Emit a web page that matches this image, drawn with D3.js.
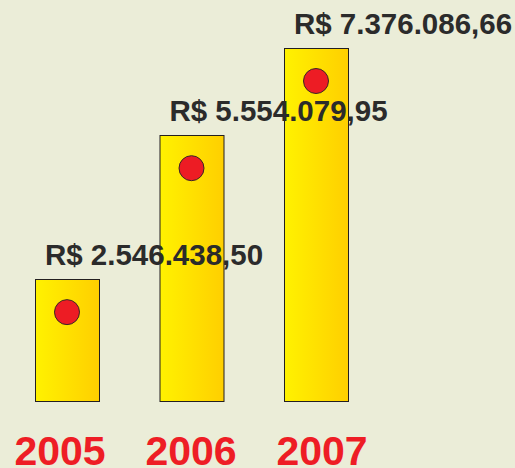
<!DOCTYPE html>
<html>
<head>
<meta charset="utf-8">
<script src="https://cdn.jsdelivr.net/npm/d3@7"></script>
<style>
  body { margin: 0; background: #ebedd8; }
  svg { display: block; }
</style>
</head>
<body>
<div id="chart"></div>
<script>
var years = ['2005', '2006', '2007'];
var values = [2546438.50, 5554079.95, 7376086.66];
var valueLabels = ['R$ 2.546.438,50', 'R$ 5.554.079,95', 'R$ 7.376.086,66'];

var width = 515, height = 468;

var svg = d3.select("#chart")
    .append("svg")
    .attr("width", width)
    .attr("height", height);

svg.append("rect")
    .attr("width", width)
    .attr("height", height)
    .attr("fill", "#ebedd8");

var defs = svg.append("defs");
var grad = defs.append("linearGradient")
    .attr("id", "barGrad")
    .attr("x1", "0%").attr("x2", "100%")
    .attr("y1", "0%").attr("y2", "0%");
grad.append("stop").attr("offset", "0%").attr("stop-color", "#fff200");
grad.append("stop").attr("offset", "100%").attr("stop-color", "#ffcf00");

var x = d3.scaleBand()
    .domain(years)
    .range([35, 348])
    .paddingInner(0.486)
    .paddingOuter(0);

// year labels sit a bit wider apart than the bars
var xLabel = d3.scalePoint()
    .domain(years)
    .range([60, 322]);

var y = d3.scaleLinear()
    .domain([0, d3.max(values)])
    .range([401, 48]);

svg.selectAll(".bar")
    .data(years)
    .enter()
    .append("rect")
    .attr("class", "bar")
    .attr("x", function(d) { return x(d) + 0.5; })
    .attr("y", function(d, i) { return Math.round(y(values[i])) + 0.5; })
    .attr("width", x.bandwidth())
    .attr("height", function(d, i) { return Math.round(y(0) - y(values[i])); })
    .attr("fill", "url(#barGrad)")
    .attr("stroke", "#231f20")
    .attr("stroke-width", 1);

svg.selectAll(".dot")
    .data(years)
    .enter()
    .append("circle")
    .attr("class", "dot")
    .attr("cx", function(d) { return x(d) + x.bandwidth() / 2; })
    .attr("cy", function(d, i) { return y(values[i]) + 33; })
    .attr("r", 12.5)
    .attr("fill", "#ed1c24")
    .attr("stroke", "#3b2626")
    .attr("stroke-width", 1);

svg.selectAll(".value-label")
    .data(years)
    .enter()
    .append("text")
    .attr("class", "value-label")
    .attr("x", function(d) { return x(d) + x.bandwidth() / 2 + 87; })
    .attr("y", function(d, i) { return y(values[i]) - 14; })
    .attr("text-anchor", "middle")
    .attr("font-family", "Liberation Sans, Arial, sans-serif")
    .attr("font-weight", "bold")
    .attr("font-size", "29.5px")
    .attr("fill", "#2b2b2b")
    .text(function(d, i) { return valueLabels[i]; });

svg.selectAll(".year-label")
    .data(years)
    .enter()
    .append("text")
    .attr("class", "year-label")
    .attr("x", function(d) { return xLabel(d); })
    .attr("y", 465)
    .attr("text-anchor", "middle")
    .attr("font-family", "Liberation Sans, Arial, sans-serif")
    .attr("font-weight", "bold")
    .attr("font-size", "41px")
    .attr("fill", "#ee1d25")
    .text(function(d) { return d; });
</script>
</body>
</html>
